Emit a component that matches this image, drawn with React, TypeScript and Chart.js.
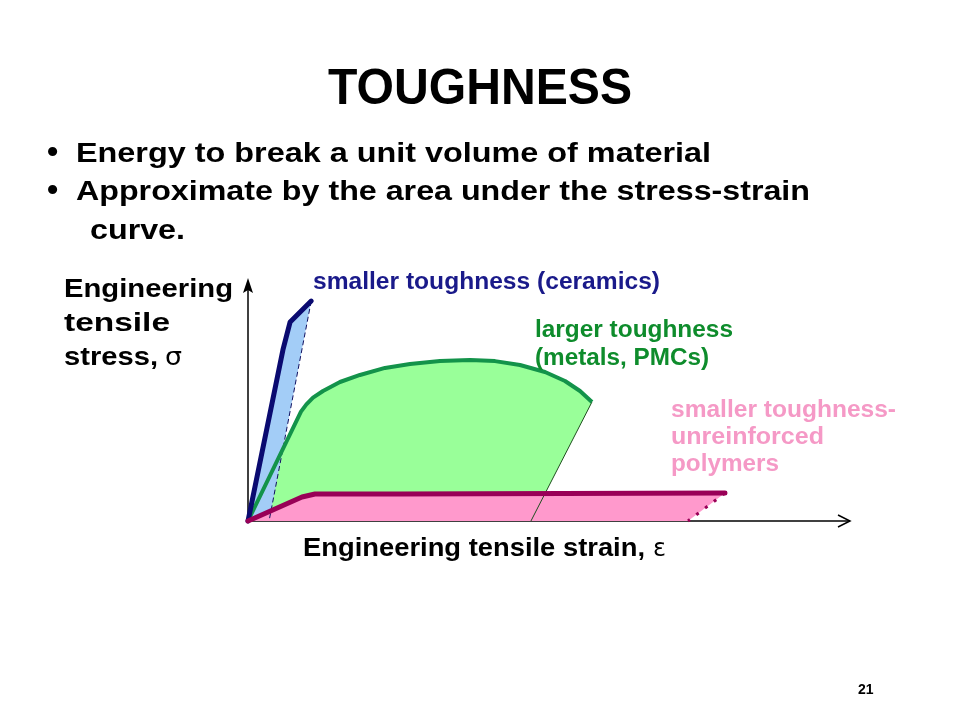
import React, { useEffect, useRef } from "react";
import { Chart, registerables } from "chart.js";

Chart.register(...registerables);

// Schematic engineering stress–strain curves, arbitrary units (0–100 on both axes)
const ceramicStrain = [0, 5.8, 7.0, 10.5];
const ceramicStress = [0, 70.4, 81.9, 90.5];
const ceramicUnloadStrain = [10.5, 3.5];
const ceramicUnloadStress = [90.5, 0];

const metalStrain = [0, 8.8, 9.7, 10.8, 12.46, 15.28, 18.6, 22.76, 26.91, 31.89, 36.88, 41.03, 45.18, 49.34, 52.66, 55.15, 57.14];
const metalStress = [0, 45.0, 48.0, 50.8, 53.5, 57.2, 60.1, 63.0, 64.6, 65.8, 66.3, 65.8, 64.2, 61.3, 57.6, 53.5, 49.0];
const metalUnloadStrain = [57.14, 47.0];
const metalUnloadStress = [49.0, 0];

const polymerStrain = [0, 8.97, 11.13, 25.25, 79.24];
const polymerStress = [0, 9.88, 11.1, 11.1, 11.5];
const polymerUnloadStrain = [79.24, 73.09];
const polymerUnloadStress = [11.5, 0];

const TITLE = "TOUGHNESS";
const BULLETS = [
  "Energy to break a unit volume of material",
  "Approximate by the area under the stress-strain",
  "curve.",
];
const Y_LABEL = ["Engineering", "tensile", "stress,"];
const X_LABEL = "Engineering tensile strain,";
const CERAMIC_LABEL = ["smaller toughness (ceramics)"];
const METAL_LABEL = ["larger toughness", "(metals, PMCs)"];
const POLYMER_LABEL = ["smaller toughness-", "unreinforced", "polymers"];
const PAGE_NUMBER = "21";

const toPts = (xs: number[], ys: number[]) => xs.map((x, i) => ({ x, y: ys[i] }));

const FONT = '"Liberation Sans", Arial, sans-serif';

function drawText(
  ctx: CanvasRenderingContext2D,
  text: string,
  x: number,
  y: number,
  font: string,
  color: string,
  width?: number
) {
  ctx.save();
  ctx.font = font;
  ctx.fillStyle = color;
  ctx.textAlign = "left";
  ctx.textBaseline = "alphabetic";
  const w = ctx.measureText(text).width;
  ctx.translate(x, y);
  if (width && w > 0) ctx.scale(width / w, 1);
  ctx.fillText(text, 0, 0);
  ctx.restore();
}

// Fills the closed region traced by a dataset's own points (curve + unloading line + strain axis)
const polyFillPlugin = {
  id: "polyFill",
  beforeDatasetDraw(chart: any, args: any) {
    const ds = chart.data.datasets[args.index];
    if (!ds.polyFill) return;
    const pts = args.meta.data;
    if (!pts || !pts.length) return;
    const ctx = chart.ctx as CanvasRenderingContext2D;
    ctx.save();
    ctx.beginPath();
    pts.forEach((p: any, i: number) => (i ? ctx.lineTo(p.x, p.y) : ctx.moveTo(p.x, p.y)));
    ctx.closePath();
    ctx.fillStyle = ds.polyFill;
    ctx.fill();
    ctx.restore();
  },
};

const axesPlugin = {
  id: "axesArrows",
  beforeDatasetsDraw(chart: any) {
    const ctx = chart.ctx as CanvasRenderingContext2D;
    const xs = chart.scales.x;
    const ys = chart.scales.y;
    const x0 = xs.getPixelForValue(0);
    const y0 = ys.getPixelForValue(0);
    const xEnd = xs.getPixelForValue(100);
    const yEnd = ys.getPixelForValue(100);
    ctx.save();
    ctx.strokeStyle = "#000";
    ctx.fillStyle = "#000";
    ctx.lineWidth = 1.5;
    ctx.beginPath();
    ctx.moveTo(x0, y0);
    ctx.lineTo(x0, yEnd + 4);
    ctx.stroke();
    ctx.beginPath();
    ctx.moveTo(x0, yEnd);
    ctx.lineTo(x0 - 5, yEnd + 15);
    ctx.lineTo(x0, yEnd + 12);
    ctx.lineTo(x0 + 5, yEnd + 15);
    ctx.closePath();
    ctx.fill();
    ctx.beginPath();
    ctx.moveTo(x0, y0);
    ctx.lineTo(xEnd, y0);
    ctx.stroke();
    ctx.beginPath();
    ctx.moveTo(xEnd - 12, y0 - 6);
    ctx.lineTo(xEnd, y0);
    ctx.lineTo(xEnd - 12, y0 + 6);
    ctx.stroke();
    ctx.restore();
  },
};

const textPlugin = {
  id: "slideText",
  afterDraw(chart: any) {
    const ctx = chart.ctx as CanvasRenderingContext2D;
    const B = `bold 28px ${FONT}`;
    drawText(ctx, TITLE, 328, 104, `bold 50px ${FONT}`, "#000", 304);
    drawText(ctx, "\u2022", 47, 162, `bold 32px ${FONT}`, "#000");
    drawText(ctx, BULLETS[0], 76, 162, B, "#000", 635);
    drawText(ctx, "\u2022", 47, 200, `bold 32px ${FONT}`, "#000");
    drawText(ctx, BULLETS[1], 76, 200, B, "#000", 734);
    drawText(ctx, BULLETS[2], 90, 239, B, "#000", 95);

    const L = `bold 26px ${FONT}`;
    drawText(ctx, Y_LABEL[0], 64, 297, L, "#000", 169);
    drawText(ctx, Y_LABEL[1], 64, 331, L, "#000", 106);
    drawText(ctx, Y_LABEL[2], 64, 365, L, "#000", 94);
    drawText(ctx, "\u03C3", 165, 365, `24px "DejaVu Sans", sans-serif`, "#000", 17);

    drawText(ctx, X_LABEL, 303, 556, L, "#000", 342);
    drawText(ctx, "\u03B5", 653, 556, `24px "DejaVu Sans", sans-serif`, "#000", 13);

    const S = `bold 23px ${FONT}`;
    drawText(ctx, CERAMIC_LABEL[0], 313, 289, S, "#1a1a8a", 347);
    drawText(ctx, METAL_LABEL[0], 535, 337, S, "#0e8c2c", 198);
    drawText(ctx, METAL_LABEL[1], 535, 365, S, "#0e8c2c", 174);
    drawText(ctx, POLYMER_LABEL[0], 671, 417, S, "#f599c6", 225);
    drawText(ctx, POLYMER_LABEL[1], 671, 444, S, "#f599c6", 153);
    drawText(ctx, POLYMER_LABEL[2], 671, 471, S, "#f599c6", 108);

    drawText(ctx, PAGE_NUMBER, 858, 694, `bold 14px ${FONT}`, "#000");
  },
};

export default function App() {
  const canvasRef = useRef<HTMLCanvasElement | null>(null);

  useEffect(() => {
    const canvas = canvasRef.current;
    if (!canvas) return;
    const line = (extra: any) => ({
      showLine: true,
      pointRadius: 0,
      pointHoverRadius: 0,
      tension: 0,
      clip: false,
      fill: false,
      ...extra,
    });
    const region = (label: string, pts: any[], color: string, order: number) =>
      line({
        label,
        data: pts,
        showLine: false,
        borderWidth: 0,
        borderColor: "rgba(0,0,0,0)",
        backgroundColor: color,
        polyFill: color,
        order,
      });
    const chart = new Chart(canvas, {
      type: "scatter",
      data: {
        datasets: [
          region("metals fill", [...toPts(metalStrain, metalStress), { x: metalUnloadStrain[1], y: 0 }], "#99ff99", 10),
          region("ceramics fill", [...toPts(ceramicStrain, ceramicStress), { x: ceramicUnloadStrain[1], y: 0 }], "#a3cdf7", 9),
          region("polymers fill", [...toPts(polymerStrain, polymerStress), { x: polymerUnloadStrain[1], y: 0 }], "#ff99cc", 8),
          line({
            label: "metals unload",
            data: toPts(metalUnloadStrain, metalUnloadStress),
            borderWidth: 1,
            borderColor: "#1f4f1f",
            order: 7,
          }),
          line({
            label: "ceramics unload",
            data: toPts(ceramicUnloadStrain, ceramicUnloadStress),
            borderWidth: 1,
            borderColor: "#101060",
            borderDash: [5, 3],
            order: 6,
          }),
          line({
            label: "metals",
            data: toPts(metalStrain, metalStress),
            borderWidth: 4,
            borderColor: "#13934a",
            borderJoinStyle: "round",
            order: 5,
          }),
          line({
            label: "ceramics",
            data: toPts(ceramicStrain, ceramicStress),
            borderWidth: 5,
            borderColor: "#0a0a70",
            borderJoinStyle: "round",
            borderCapStyle: "round",
            order: 4,
          }),
          line({
            label: "polymers",
            data: toPts(polymerStrain, polymerStress),
            borderWidth: 5,
            borderColor: "#990057",
            borderJoinStyle: "round",
            borderCapStyle: "round",
            order: 3,
          }),
          line({
            label: "polymers unload",
            data: toPts(polymerUnloadStrain, polymerUnloadStress),
            borderWidth: 3,
            borderColor: "#990057",
            borderDash: [3, 8],
            order: 2,
          }),
        ],
      },
      options: {
        responsive: false,
        animation: false,
        devicePixelRatio: 1,
        layout: { padding: { left: 248, right: 110, top: 278, bottom: 199 } },
        scales: {
          x: { type: "linear", min: 0, max: 100, display: false },
          y: { type: "linear", min: 0, max: 100, display: false },
        },
        plugins: {
          legend: { display: false },
          tooltip: { enabled: false },
        },
        events: [],
      },
      plugins: [polyFillPlugin, axesPlugin, textPlugin],
    });
    return () => chart.destroy();
  }, []);

  return (
    <div style={{ position: "absolute", left: 0, top: 0, width: 960, height: 720, background: "#fff" }}>
      <canvas ref={canvasRef} width={960} height={720} style={{ display: "block" }} />
    </div>
  );
}
